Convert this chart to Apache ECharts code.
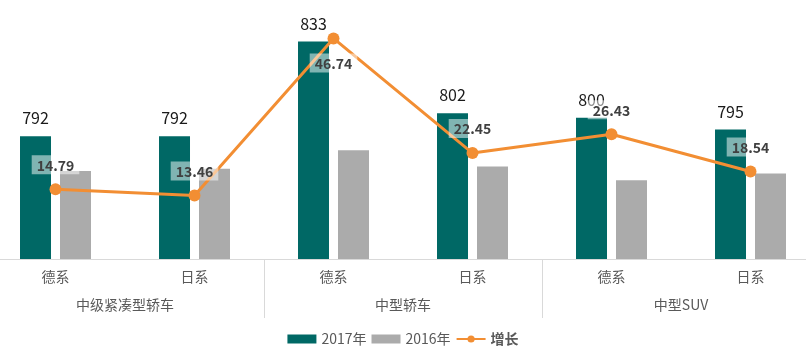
<!DOCTYPE html>
<html><head><meta charset="utf-8">
<script src="https://cdn.jsdelivr.net/npm/echarts@6/dist/echarts.min.js"></script>
<style>html,body{margin:0;padding:0;background:#fff;overflow:hidden;width:806px;height:357px;position:relative}#c{position:absolute;left:-14px;top:0;width:834px;height:357px}</style>
</head><body><div id="c"></div>
<script>
const categories = ['德系','日系','德系','日系','德系','日系'];
const groups = ['中级紧凑型轿车','中型轿车','中型SUV'];
const sales2017 = [792, 792, 833, 802, 800, 795];
const sales2016 = [777, 778, 786, 779, 773, 776];
const growth = [14.79, 13.46, 46.74, 22.45, 26.43, 18.54];
const growthLabelBelow = [false, false, true, false, false, false];

const font = '"Noto Sans CJK SC", "Noto Sans", sans-serif';
const chart = echarts.init(document.getElementById('c'), null, {renderer:'canvas'});
chart.setOption({
  animation: false,
  textStyle: {fontFamily: font},
  grid: {left: 0, right: 0, top: 23, bottom: 98, containLabel: false},
  legend: {
    bottom: 6, left: 'center', itemGap: 5, itemWidth: 29, itemHeight: 9,
    textStyle: {color: '#595959', fontSize: 14, fontFamily: font,
      rich: {b: {fontWeight: 'bold', color: '#595959', fontSize: 14, fontFamily: font}}},
    formatter: n => n === '增长' ? '{b|' + n + '}' : n,
    data: [{name:'2017年', icon:'rect'}, {name:'2016年', icon:'rect'}, {name:'增长'}]
  },
  xAxis: [
    {type:'category', data: categories, position:'bottom',
     axisLine:{show:true, lineStyle:{color:'#d9d9d9', width:1}},
     axisTick:{show:false},
     axisLabel:{color:'#595959', fontSize:14, margin:11, fontFamily: font}},
    {type:'category', data: groups, position:'bottom', gridIndex:0,
     axisLine:{show:false},
     axisTick:{show:true, length:59, lineStyle:{color:'#d9d9d9'}},
     axisLabel:{color:'#595959', fontSize:14, margin:39, fontFamily: font}}
  ],
  yAxis: [
    {type:'value', min:739, max:841, show:false, splitLine:{show:false}},
    {type:'value', min:0, max:50, show:false, splitLine:{show:false}}
  ],
  series: [
    {name:'2017年', type:'bar', data: sales2017, barWidth:31, barGap:'29%',
     itemStyle:{color:'#006865'},
     label:{show:true, position:'top', distance:10, color:'#1a1a1a', fontSize:16, fontFamily: font}},
    {name:'2016年', type:'bar', data: sales2016, barWidth:31, barGap:'29%',
     itemStyle:{color:'#ababab'}},
    {name:'增长', type:'line', yAxisIndex:1, z:5,
     data: growth.map((v,i)=>({value:v, label:{position: growthLabelBelow[i] ? 'bottom' : 'top'}})),
     lineStyle:{color:'#f28e33', width:3}, itemStyle:{color:'#f28e33'},
     symbol:'circle', symbolSize:12,
     label:{show:true, distance:9, color:'#404040', fontWeight:'bold', fontSize:14, fontFamily: font,
       backgroundColor:'rgba(255,255,255,0.5)', padding:[3,5,2,5],
       formatter: p => p.value.toFixed(2)}}
  ]
});
</script></body></html>
